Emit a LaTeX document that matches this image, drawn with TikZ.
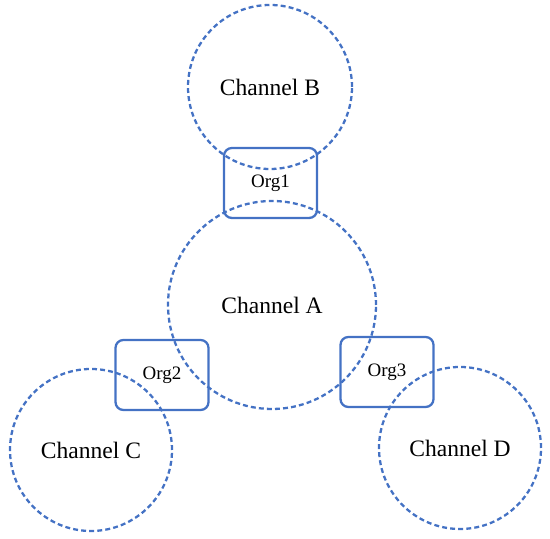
\documentclass[tikz,border=0pt]{standalone}
\usepackage{fontspec}
\setmainfont{Liberation Serif}
\usepackage{xcolor}
\usepackage{tikz}
\usetikzlibrary{positioning}

\definecolor{chanblue}{HTML}{4472C4}

\begin{document}
\begin{tikzpicture}[
   channel/.style={circle, draw=chanblue, line width=1.3pt,
      dash pattern=on 2.8pt off 1.8pt, inner sep=0pt, font=\fontsize{13.4}{15}\selectfont},
   org/.style={draw=chanblue, line width=1.3pt, rounded corners=4.5pt,
      minimum width=1.86cm, minimum height=1.40cm, inner sep=0pt,
      font=\fontsize{10.8}{12}\selectfont}
]
\useasboundingbox (0,0) rectangle (11,10.78);

% Channels
\node[channel, minimum size=4.16cm] (chanA) at (5.44, 4.68) {Channel A};
\node[channel, minimum size=3.28cm] (chanB) at (5.40, 9.04) {Channel B};
\node[channel, minimum size=3.24cm] (chanC) at (1.82, 1.78) {Channel C};
\node[channel, minimum size=3.24cm] (chanD) at (9.20, 1.82) {Channel D};

% Organisations
\node[org] (org1) at (5.41, 7.12) {Org1};
\node[org] (org2) at (3.24, 3.28) {Org2};
\node[org] (org3) at (7.74, 3.34) {Org3};
\end{tikzpicture}
\end{document}
